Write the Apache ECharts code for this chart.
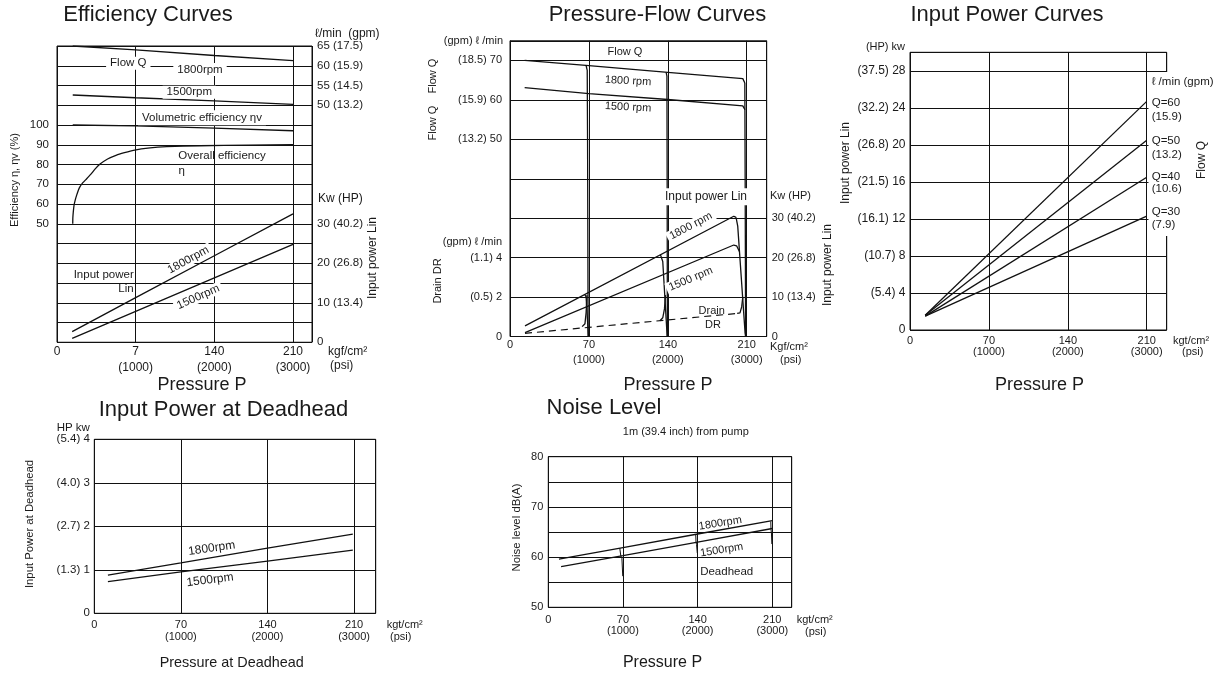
<!DOCTYPE html>
<html><head><meta charset="utf-8">
<script src="https://cdn.jsdelivr.net/npm/echarts@6/dist/echarts.min.js"></script>
<style>html,body{margin:0;padding:0;background:#fff}#c{width:1230px;height:677px}</style>
</head><body><div id="c"></div>
<script>
// ---------------- tick labels ----------------
const pressureTicks = [0, 70, 140, 210];
const kgfLabelsEff = ['0', '7', '140', '210'];
const kgfLabels = ['0', '70', '140', '210'];
const psiLabels = ['', '(1000)', '(2000)', '(3000)'];

const effTickValues = [50, 60, 70, 80, 90, 100];
const effTickLabels = ['50', '60', '70', '80', '90', '100'];
const effFlowTickValues = [50, 55, 60, 65];
const effFlowTickLabels = ['50 (13.2)', '55 (14.5)', '60 (15.9)', '65 (17.5)'];
const powerTickValues = [0, 10, 20, 30];
const powerTickLabels = ['0', '10 (13.4)', '20 (26.8)', '30 (40.2)'];
const pfFlowTickValues = [50, 60, 70];
const pfFlowTickLabels = ['(13.2) 50', '(15.9) 60', '(18.5) 70'];
const pfDrainTickValues = [0, 2, 4];
const pfDrainTickLabels = ['0', '(0.5) 2', '(1.1) 4'];
const ipTickValues = [0, 4, 8, 12, 16, 20, 24, 28];
const ipTickLabels = ['0', '(5.4) 4', '(10.7) 8', '(16.1) 12', '(21.5) 16', '(26.8) 20', '(32.2) 24', '(37.5) 28'];
const dhTickValues = [0, 1, 2, 3, 4];
const dhTickLabels = ['0', '(1.3) 1', '(2.7) 2', '(4.0) 3', '(5.4) 4'];
const noiseTickValues = [50, 60, 70, 80];
const noiseTickLabels = ['50', '60', '70', '80'];

// ---------------- data: Efficiency Curves ----------------
const effFlow1800 = [[14, 65.0], [70, 64.0], [140, 62.6], [210, 61.3]];
const effFlow1500 = [[14, 52.6], [70, 51.9], [140, 51.1], [210, 50.2]];
const effVolumetric = [[14, 100], [70, 99.6], [140, 98.4], [210, 97.1]];
const effOverall = [[14, 50], [14.1, 53], [14.5, 56], [15.2, 59.5], [16.2, 62], [17.5, 64.5], [19, 67], [20.5, 68.8],
  [23, 70.8], [26.4, 72.8], [30, 75], [34, 77.8], [38.3, 80.2], [45, 82.8], [53, 84.8], [60, 86], [68, 87.2],
  [82.8, 88.4], [97.6, 89], [127, 89.5], [170, 89.8], [210, 90]];
const effPower1800 = [[13.5, 2.7], [70, 11.3], [140, 21.9], [210, 32.5]];
const effPower1500 = [[13.5, 1.0], [70, 7.8], [140, 16.3], [210, 24.8]];

// ---------------- data: Pressure-Flow Curves ----------------
const pfFlow1800 = [[13, 70], [70, 68.7], [140, 67.0], [206.5, 65.4], [208.3, 64.3]];
const pfFlow1500 = [[13, 63.1], [70, 61.6], [140, 60.1], [206.5, 58.5], [208.4, 57.5]];
const pfFlowDrop70 = [[67.5, 68.7], [68.5, 67.5], [68.8, 50], [69.3, 0]];
const pfFlowDrop140 = [[138.5, 67.0], [139.2, 66], [139.4, 40], [139.6, 0]];
const pfFlowDrop210 = [[208.3, 64.3], [208.6, 40], [209, 0]];
const pfPower1800 = [[13.3, 2.7], [198.5, 30.5], [200.5, 30.2]];
const pfPower1500 = [[13.3, 1.0], [198.5, 23.2], [201, 23.0], [203.6, 21.5]];
const pfPowerDrop70 = [[66.5, 10.6], [67.5, 10.0], [69.2, 2.0], [69.6, 0]];
const pfPowerDrop140 = [[133.5, 20.7], [135.5, 19.0], [138.8, 3.0], [139.4, 0]];
const pfPowerDrop210 = [[200.5, 30.2], [202, 28], [208.5, 1], [209, 0]];
const pfDrain = [[13.3, 0.16], [201.5, 1.17]];
const pfDrainHook70 = [[64, 0.5], [66.5, 0.65], [67.5, 1.2], [68.3, 2.1]];
const pfDrainHook140 = [[133, 0.8], [135.5, 0.95], [137, 1.4], [138, 2.1]];
const pfDrainHook210 = [[201.5, 1.17], [204, 1.2], [205.5, 1.5], [206.5, 2.0]];

// ---------------- data: Input Power Curves ----------------
const ipQ60 = [[13.5, 1.6], [210, 24.7]];
const ipQ50 = [[13.5, 1.6], [210, 20.5]];
const ipQ40 = [[13.5, 1.5], [210, 16.5]];
const ipQ30 = [[13.5, 1.5], [210, 12.3]];

// ---------------- data: Input Power at Deadhead ----------------
const dh1800 = [[11, 0.88], [70, 1.16], [140, 1.5], [209, 1.82]];
const dh1500 = [[11, 0.73], [70, 0.95], [140, 1.2], [209, 1.45]];

// ---------------- data: Noise Level ----------------
const noise1800 = [[10, 59.6], [70, 61.9], [140, 64.6], [210, 67.25]];
const noise1500 = [[12, 58.1], [70, 60.3], [140, 63.0], [210, 65.7]];
const noiseDip70 = [[67, 61.8], [68, 60.2], [69, 59.8], [69.8, 56.2]];
const noiseDip140 = [[138.2, 64.6], [138.5, 63], [139, 62.5], [139.7, 60.8]];
const noiseDip210 = [[208.6, 67.1], [208.8, 65.5], [209.2, 64.8], [209.6, 62.6]];

// ---------------- helpers ----------------
const FONT = '"Liberation Sans", Arial, Helvetica, sans-serif';
const INK = '#1a1a1a';
const LINE = '#111';

function pick(values, labels) {
  return function (v) {
    for (let i = 0; i < values.length; i++) if (Math.abs(values[i] - v) < 1e-6) return labels[i];
    return '';
  };
}
function xFmt(kgf) {
  return function (v) {
    const i = pressureTicks.indexOf(v);
    if (i < 0) return '';
    return psiLabels[i] ? kgf[i] + '\n' + psiLabels[i] : kgf[i];
  };
}
function xAxis(gridIndex, max, kgf, fontSize, lineHeight, margin) {
  return {
    type: 'value', gridIndex, min: 0, max, interval: 70,
    axisLine: {show: false}, axisTick: {show: false},
    splitLine: {show: true, lineStyle: {color: LINE, width: 1}},
    axisLabel: {formatter: xFmt(kgf), fontSize, lineHeight, margin, color: INK, fontFamily: FONT, showMinLabel: true, showMaxLabel: true}
  };
}
function yAxis(gridIndex, min, max, interval, position, values, labels, fontSize, margin, split) {
  return {
    type: 'value', gridIndex, min, max, interval, position, offset: 0,
    axisLine: {show: false}, axisTick: {show: false},
    splitLine: {show: !!split, lineStyle: {color: LINE, width: 1}},
    axisLabel: {formatter: pick(values, labels), fontSize, margin, color: INK, fontFamily: FONT, showMinLabel: true, showMaxLabel: true}
  };
}
function line(xi, yi, data, extra) {
  const s = {
    type: 'line', xAxisIndex: xi, yAxisIndex: yi, data, symbol: 'none', showSymbol: false,
    lineStyle: {color: LINE, width: 1.3}, silent: true, animation: false, z: 3
  };
  return Object.assign(s, extra || {});
}
function txt(x, y, text, o) {
  o = o || {};
  const align = o.align || 'center';
  const style = {
    text, fill: INK, fontSize: o.size || 12, fontFamily: FONT,
    align, textAlign: align, verticalAlign: 'middle', textVerticalAlign: 'middle'
  };
  if (o.bg) { style.backgroundColor = o.bg; style.padding = o.pad || [0, 2]; }
  if (o.lh) style.lineHeight = o.lh;
  return {type: 'text', x, y, rotation: (o.rot || 0) * Math.PI / 180, z: 100, silent: true, style};
}
const V = 90; // vertical text rotation

const grids = [
  {left: 57, top: 46, width: 255, height: 296.25},
  {left: 510, top: 40.75, width: 256.7, height: 295.75},
  {left: 910, top: 52.3, width: 256.7, height: 277.7},
  {left: 94.3, top: 439.3, width: 281.4, height: 174},
  {left: 548.3, top: 456.7, width: 243.4, height: 150.6}
].map(g => Object.assign(g, {show: true, borderColor: LINE, borderWidth: 1, backgroundColor: 'transparent', containLabel: false, outerBoundsMode: 'none'}));

const xAxes = [
  xAxis(0, 226.9, kgfLabelsEff, 12, 16.5, 1),
  xAxis(1, 227.7, kgfLabels, 11, 15, 1),
  xAxis(2, 227.7, kgfLabels, 11, 11, 5),
  xAxis(3, 227.5, kgfLabels, 11, 12.3, 5.5),
  xAxis(4, 228.2, kgfLabels, 11, 11.7, 6.5)
];
const yAxes = [
  yAxis(0, -10, 140, 10, 'left', effTickValues, effTickLabels, 11.5, 8, true),
  yAxis(0, -10, 65, 5, 'right', effFlowTickValues, effFlowTickLabels, 11.5, 5, false),
  yAxis(0, 0, 75, 5, 'right', powerTickValues, powerTickLabels, 11.5, 5, false),
  yAxis(1, 0, 75, 10, 'left', pfFlowTickValues, pfFlowTickLabels, 11, 8, true),
  yAxis(1, 0, 15, 2, 'left', pfDrainTickValues, pfDrainTickLabels, 11, 8, false),
  yAxis(1, 0, 75, 10, 'right', powerTickValues, powerTickLabels, 11, 5, false),
  yAxis(2, 0, 30, 4, 'left', ipTickValues, ipTickLabels, 12, 4.5, true),
  yAxis(3, 0, 4, 1, 'left', dhTickValues, dhTickLabels, 11.5, 4.5, true),
  yAxis(4, 50, 80, 5, 'left', noiseTickValues, noiseTickLabels, 11, 5, true)
];

const series = [
  // Efficiency
  line(0, 1, effFlow1800), line(0, 1, effFlow1500),
  line(0, 0, effVolumetric), line(0, 0, effOverall, {smooth: 0.15}),
  line(0, 2, effPower1800), line(0, 2, effPower1500),
  // Pressure-Flow
  line(1, 3, pfFlow1800), line(1, 3, pfFlow1500),
  line(1, 3, pfFlowDrop70), line(1, 3, pfFlowDrop140), line(1, 3, pfFlowDrop210),
  line(1, 5, pfPower1800), line(1, 5, pfPower1500),
  line(1, 5, pfPowerDrop70), line(1, 5, pfPowerDrop140), line(1, 5, pfPowerDrop210),
  line(1, 4, pfDrain, {lineStyle: {color: LINE, width: 1.2, type: [7, 5]}}),
  line(1, 4, pfDrainHook70), line(1, 4, pfDrainHook140), line(1, 4, pfDrainHook210),
  // Input power
  line(2, 6, ipQ60), line(2, 6, ipQ50), line(2, 6, ipQ40), line(2, 6, ipQ30),
  // Deadhead
  line(3, 7, dh1800), line(3, 7, dh1500),
  // Noise
  line(4, 8, noise1800), line(4, 8, noise1500),
  line(4, 8, noiseDip70, {lineStyle: {color: LINE, width: 1}}),
  line(4, 8, noiseDip140, {lineStyle: {color: LINE, width: 1}}),
  line(4, 8, noiseDip210, {lineStyle: {color: LINE, width: 1}})
];

const W = '#fff';
const graphic = [
  // white patch in Input Power Curves right margin (labels area)
  {type: 'rect', z: 99, silent: true, shape: {x: 1148.5, y: 72, width: 22, height: 164}, style: {fill: W}},

  // ---- Efficiency Curves ----
  txt(148, 15, 'Efficiency Curves', {size: 22}),
  txt(15, 180, 'Efficiency η, ηv (%)', {size: 11, rot: V}),
  txt(372.5, 258, 'Input power Lin', {size: 12, rot: V}),
  txt(315, 33.3, 'ℓ/min  (gpm)', {size: 12, align: 'left'}),
  txt(318, 198.5, 'Kw (HP)', {size: 12, align: 'left'}),
  txt(328, 352, 'kgf/cm²', {size: 12, align: 'left'}),
  txt(330, 366, '(psi)', {size: 12, align: 'left'}),
  txt(202, 385, 'Pressure P', {size: 18}),
  txt(128.3, 63.3, 'Flow Q', {size: 11.5, bg: W, pad: [0, 4], lh: 13}),
  txt(200, 69.5, '1800rpm', {size: 11.5, bg: W, pad: [0, 4], lh: 13}),
  txt(189.3, 92.3, '1500rpm', {size: 11.5, bg: W, pad: [0, 4], lh: 13}),
  txt(202, 117.7, 'Volumetric efficiency ηv', {size: 11.5, bg: W, pad: [1, 4], lh: 13}),
  txt(222, 155.7, 'Overall efficiency', {size: 11.5}),
  txt(181.7, 171, 'η', {size: 11.5}),
  txt(103.7, 275, 'Input power', {size: 11.5}),
  txt(126, 289, 'Lin', {size: 11.5}),
  txt(188.3, 260, '1800rpm', {size: 11.5, rot: 29, bg: W, pad: [0, 3], lh: 12}),
  txt(198.3, 297, '1500rpm', {size: 11.5, rot: 24, bg: W, pad: [0, 3], lh: 12}),

  // ---- Pressure-Flow Curves ----
  txt(657.5, 15, 'Pressure-Flow Curves', {size: 22}),
  txt(503, 40.7, '(gpm) ℓ /min', {size: 11, align: 'right'}),
  txt(502, 241.7, '(gpm) ℓ /min', {size: 11, align: 'right'}),
  txt(433.3, 76, 'Flow Q', {size: 11, rot: V}),
  txt(433.3, 123, 'Flow Q', {size: 11, rot: V}),
  txt(438.3, 281, 'Drain DR', {size: 11, rot: V}),
  txt(827.5, 265, 'Input power Lin', {size: 12, rot: V}),
  txt(770, 196, 'Kw (HP)', {size: 11, align: 'left'}),
  txt(770, 346.7, 'Kgf/cm²', {size: 11, align: 'left'}),
  txt(780, 360, '(psi)', {size: 11, align: 'left'}),
  txt(668, 385, 'Pressure P', {size: 18}),
  txt(625, 51.7, 'Flow Q', {size: 11}),
  txt(628, 81, '1800 rpm', {size: 11, rot: -3}),
  txt(628, 107.3, '1500 rpm', {size: 11, rot: -3}),
  txt(706, 196.7, 'Input power Lin', {size: 12, bg: W, pad: [2, 3], lh: 13}),
  txt(690.8, 226, '1800 rpm', {size: 11, rot: 28, bg: W, pad: [0, 3], lh: 12}),
  txt(690.8, 279, '1500 rpm', {size: 11, rot: 23, bg: W, pad: [0, 3], lh: 12}),
  txt(711.7, 310.5, 'Drain', {size: 11}),
  txt(713, 325, 'DR', {size: 11}),

  // ---- Input Power Curves ----
  txt(1007, 15, 'Input Power Curves', {size: 22}),
  txt(905, 46.7, '(HP) kw', {size: 11, align: 'right'}),
  txt(846, 163, 'Input power Lin', {size: 12, rot: V}),
  txt(1201.7, 160, 'Flow Q', {size: 12, rot: V}),
  txt(1151.7, 81.7, 'ℓ /min (gpm)', {size: 11.5, align: 'left'}),
  txt(1151.7, 102.7, 'Q=60', {size: 11.5, align: 'left'}),
  txt(1151.7, 117.3, '(15.9)', {size: 11.5, align: 'left'}),
  txt(1151.7, 140.7, 'Q=50', {size: 11.5, align: 'left'}),
  txt(1151.7, 155, '(13.2)', {size: 11.5, align: 'left'}),
  txt(1151.7, 176.7, 'Q=40', {size: 11.5, align: 'left'}),
  txt(1151.7, 189, '(10.6)', {size: 11.5, align: 'left'}),
  txt(1151.7, 211.7, 'Q=30', {size: 11.5, align: 'left'}),
  txt(1151.7, 225, '(7.9)', {size: 11.5, align: 'left'}),
  txt(1173, 340.7, 'kgt/cm²', {size: 11, align: 'left'}),
  txt(1182, 351.7, '(psi)', {size: 11, align: 'left'}),
  txt(1039.5, 385, 'Pressure P', {size: 18}),

  // ---- Input Power at Deadhead ----
  txt(223.5, 410, 'Input Power at Deadhead', {size: 22}),
  txt(56.7, 428.3, 'HP kw', {size: 11.5, align: 'left'}),
  txt(30, 524, 'Input Power at Deadhead', {size: 11.3, rot: V}),
  txt(386.7, 625, 'kgt/cm²', {size: 11, align: 'left'}),
  txt(390, 637.3, '(psi)', {size: 11, align: 'left'}),
  txt(231.7, 663, 'Pressure at Deadhead', {size: 14.4}),
  txt(211.7, 548.3, '1800rpm', {size: 12, rot: 8, bg: W, pad: [0, 3], lh: 12}),
  txt(210, 580, '1500rpm', {size: 12, rot: 7}),

  // ---- Noise Level ----
  txt(604, 408, 'Noise Level', {size: 22}),
  txt(685.8, 431.7, '1m (39.4 inch) from pump', {size: 11}),
  txt(516.7, 527.5, 'Noise level dB(A)', {size: 11.4, rot: V}),
  txt(796.7, 620, 'kgt/cm²', {size: 11, align: 'left'}),
  txt(805, 631.7, '(psi)', {size: 11, align: 'left'}),
  txt(662.5, 663, 'Pressure P', {size: 16}),
  txt(720.3, 523.3, '1800rpm', {size: 11, rot: 9}),
  txt(721.7, 550, '1500rpm', {size: 11, rot: 9}),
  txt(726.7, 571.7, 'Deadhead', {size: 11.5})
];

const chart = echarts.init(document.getElementById('c'), null, {renderer: 'canvas'});
chart.setOption({
  backgroundColor: '#fff',
  animation: false,
  textStyle: {fontFamily: FONT, color: INK},
  grid: grids,
  xAxis: xAxes,
  yAxis: yAxes,
  series,
  graphic
});
</script></body></html>
